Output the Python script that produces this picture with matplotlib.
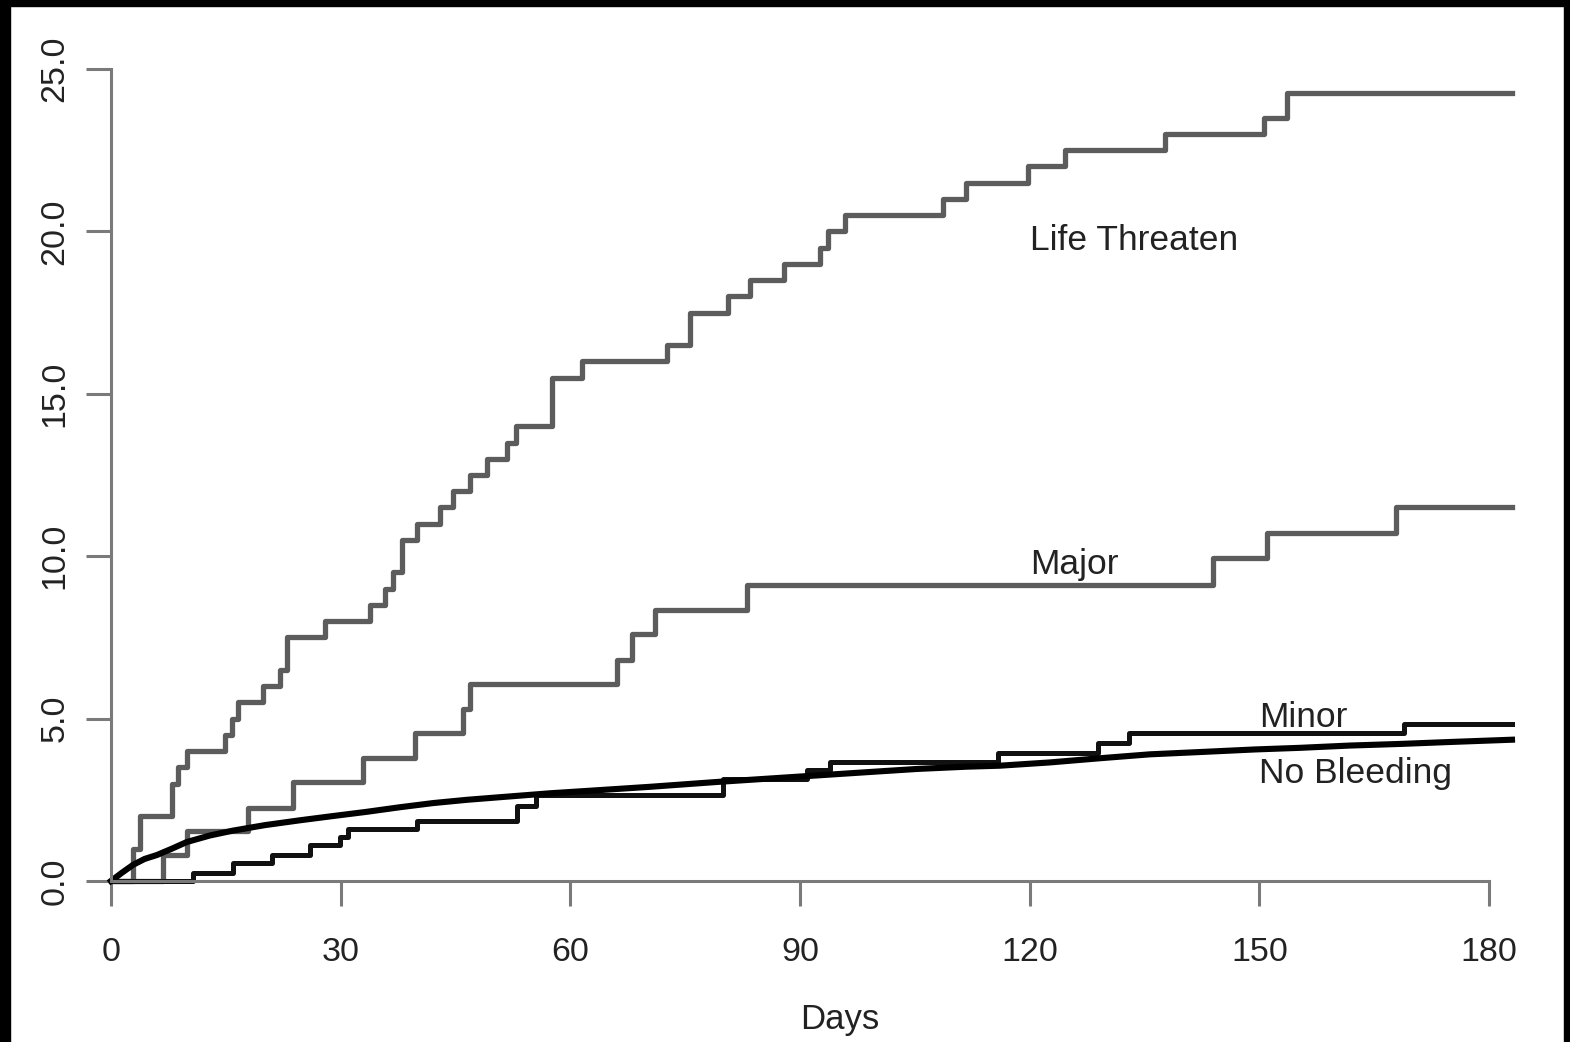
import matplotlib.pyplot as plt
from matplotlib.patches import Rectangle

plt.rcParams['font.family'] = ['Liberation Sans', 'DejaVu Sans']

# cumulative incidence (%) by bleeding category
life_days = [0, 2.9, 3.8, 8.0, 8.8, 9.9, 14.9, 15.8, 16.6, 19.9, 22.1, 23.0, 28.0,
             33.8, 35.8, 36.8, 38.0, 40.0, 43.0, 44.7, 46.9, 49.1, 51.7, 52.9, 57.6,
             61.5, 72.6, 75.6, 80.6, 83.5, 87.9, 92.6, 93.7, 95.9, 108.7, 111.7,
             119.8, 124.6, 137.7, 150.6, 153.6, 183.0]
life_vals = [0, 1.0, 2.0, 3.0, 3.5, 4.0, 4.5, 5.0, 5.5, 6.0, 6.5, 7.5, 8.0,
             8.5, 9.0, 9.5, 10.5, 11.0, 11.5, 12.0, 12.5, 13.0, 13.5, 14.0, 15.5,
             16.0, 16.5, 17.5, 18.0, 18.5, 19.0, 19.5, 20.0, 20.5, 21.0, 21.5,
             22.0, 22.5, 23.0, 23.5, 24.25, 24.25]

major_days = [0, 6.8, 9.9, 17.9, 23.8, 32.9, 39.7, 46.0, 46.9, 66.1, 68.1, 71.1,
              83.1, 143.9, 151.0, 167.8, 183.0]
major_vals = [0, 0.8, 1.55, 2.25, 3.05, 3.8, 4.55, 5.3, 6.05, 6.8, 7.6, 8.35,
              9.1, 9.95, 10.7, 11.5, 11.5]

minor_days = [0, 10.7, 15.9, 21.0, 26.0, 29.9, 31.0, 40.0, 53.0, 55.5, 79.9,
              90.9, 93.9, 115.9, 128.9, 133.0, 168.9, 183.0]
minor_vals = [0, 0.25, 0.55, 0.8, 1.1, 1.35, 1.6, 1.85, 2.3, 2.65, 3.15,
              3.42, 3.66, 3.94, 4.25, 4.55, 4.83, 4.83]

none_days = [0, 1.4, 2.9, 4.4, 6.0, 8.0, 9.9, 12.9, 15.9, 20.1, 24.7, 29.0, 33.4,
             37.7, 42.1, 46.5, 50.8, 57.3, 63.9, 70.4, 79.2, 85.7, 92.2, 98.7,
             105.3, 111.8, 116.1, 122.6, 129.2, 135.7, 142.2, 149.4, 155.3, 161.8,
             168.4, 174.9, 183.0]
none_vals = [0, 0.25, 0.5, 0.68, 0.8, 1.0, 1.2, 1.4, 1.55, 1.72, 1.87, 2.0, 2.13,
             2.27, 2.4, 2.5, 2.58, 2.7, 2.8, 2.9, 3.05, 3.15, 3.25, 3.35,
             3.45, 3.52, 3.55, 3.65, 3.78, 3.9, 3.97, 4.05, 4.1, 4.17,
             4.22, 4.28, 4.35]

xticks = [0, 30, 60, 90, 120, 150, 180]
yticks = [0, 5, 10, 15, 20, 25]

fig = plt.figure(figsize=(15.7, 10.42), dpi=100)
ax = fig.add_axes([111 / 1570, 161 / 1042, 1401 / 1570, 812 / 1042])

gray = '#5c5c5c'
ax.step(life_days, life_vals, where='post', color=gray, lw=3.8, clip_on=False)
ax.step(major_days, major_vals, where='post', color=gray, lw=3.8, clip_on=False)
ax.step(minor_days, minor_vals, where='post', color='#111111', lw=3.6, clip_on=False)
ax.plot(none_days, none_vals, color='#000000', lw=4.4, clip_on=False)

ax.set_xlim(0, 183)
ax.set_ylim(0, 25)
ax.set_xticks(xticks)
ax.set_yticks(yticks)
ax.set_xticklabels([str(t) for t in xticks])
ax.set_yticklabels(['%.1f' % t for t in yticks], rotation=90, va='center')

for s in ['top', 'right']:
    ax.spines[s].set_visible(False)
axc = '#7a7a7a'
for s in ['left', 'bottom']:
    ax.spines[s].set_color(axc)
    ax.spines[s].set_linewidth(2.2)
ax.spines['left'].set_bounds(0, 25)
ax.spines['bottom'].set_bounds(0, 180)
ax.tick_params(axis='both', direction='out', length=18, width=2.2, color=axc,
               labelsize=24.5, labelcolor='#222222')
ax.tick_params(axis='x', pad=22)
ax.tick_params(axis='y', pad=11)

ax.text(0.52, -0.171, 'Days', transform=ax.transAxes, ha='center', va='center',
        fontsize=25, color='#222222')

lab = dict(fontsize=25.5, color='#222222', ha='left', va='baseline')
ax.text(120, 19.43, 'Life Threaten', **lab)
ax.text(120, 9.45, 'Major', **lab)
ax.text(150, 4.74, 'Minor', **lab)
ax.text(150, 3.02, 'No Bleeding', **lab)

# black frame round the picture (no bottom edge)
fig.add_artist(Rectangle((0, 0), 10 / 1570, 1, transform=fig.transFigure, color='black'))
fig.add_artist(Rectangle((0, 1 - 6 / 1042), 1, 6 / 1042, transform=fig.transFigure, color='black'))
fig.add_artist(Rectangle((1 - 6 / 1570, 0), 6 / 1570, 1, transform=fig.transFigure, color='black'))

fig.savefig('out.png', dpi=100)
